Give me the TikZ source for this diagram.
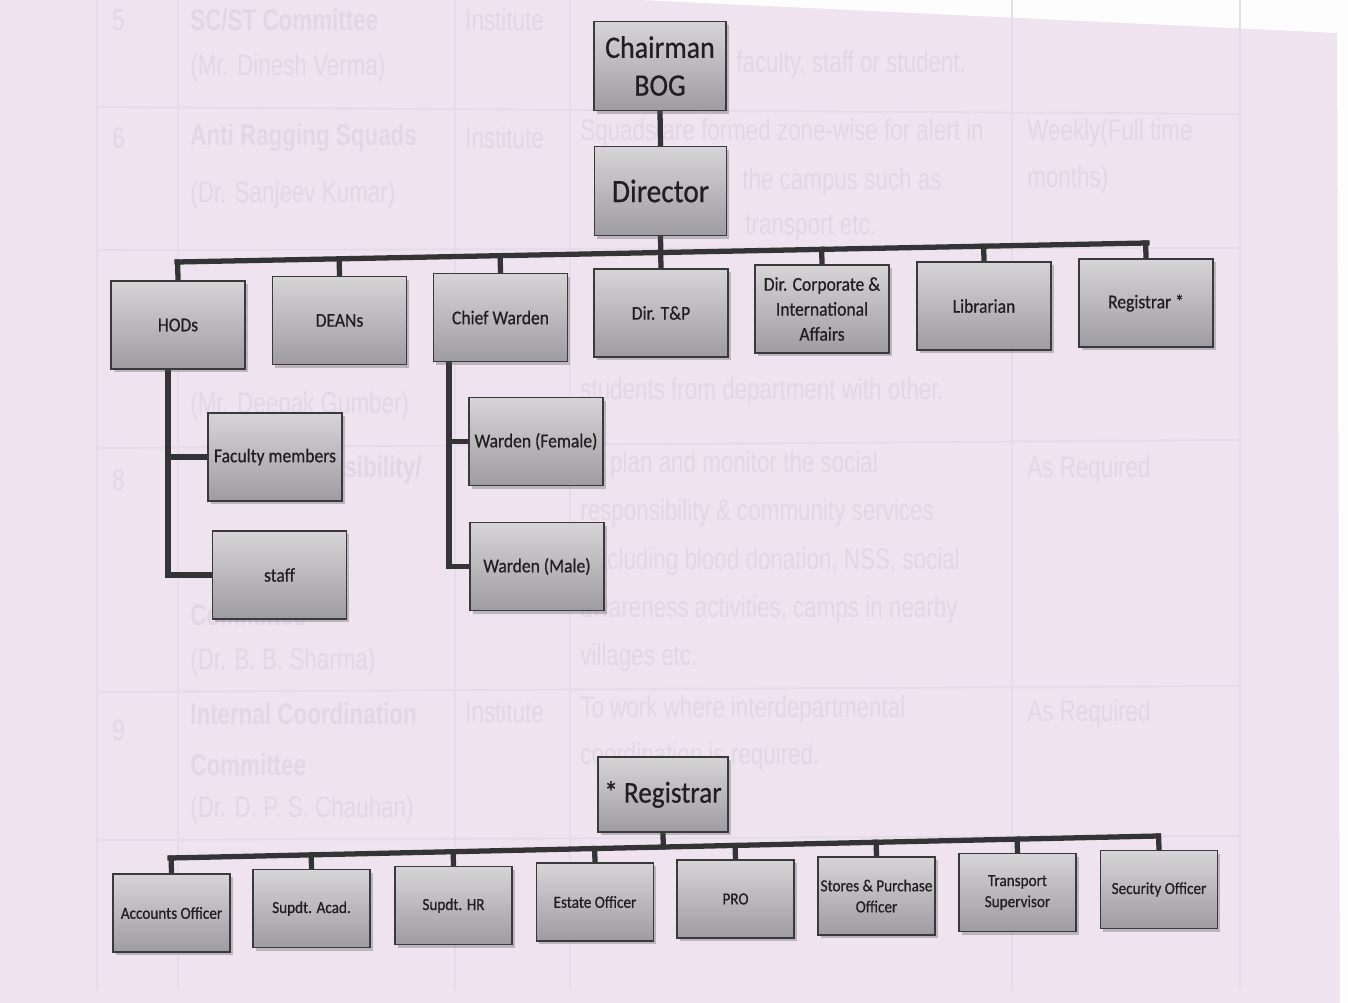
\documentclass[tikz,border=0pt]{standalone}
\usepackage{fontspec}
\setmainfont{Carlito}[FakeStretch=0.9,FakeBold=0.6]
\newfontfamily\ghostfont{Liberation Sans}[FakeStretch=0.75]
\usetikzlibrary{calc,shadows}
\pgfdeclarelayer{paperlayer}
\pgfdeclarelayer{linelayer}
\pgfsetlayers{paperlayer,linelayer,main}
\definecolor{paper}{RGB}{238,227,239}
\definecolor{ghost}{RGB}{227,215,229}
\definecolor{ghostline}{RGB}{230,219,232}
\definecolor{linec}{RGB}{52,52,55}
\definecolor{boxtop}{RGB}{214,212,215}
\definecolor{boxbot}{RGB}{158,156,160}
\definecolor{boxedge}{RGB}{58,58,60}
\tikzset{
  orgbox/.style={draw=boxedge, line width=0.9pt, top color=boxtop, bottom color=boxbot,
    align=center, text=black!88, inner sep=1pt,
    drop shadow={shadow xshift=1.6pt, shadow yshift=-1.8pt, opacity=0.3, fill=black!70}},
  bigbox/.style={orgbox, minimum width=2.64cm, minimum height=1.78cm},
  midbox/.style={orgbox, minimum width=2.68cm, minimum height=1.76cm,
    font=\fontsize{11.1}{14.2}\selectfont},
  lowbox/.style={orgbox, minimum width=2.34cm, minimum height=1.56cm,
    font=\fontsize{9.6}{12}\selectfont},
  conn/.style={draw=linec, line width=3pt, line cap=rect, line join=miter},
  ghosttext/.style={anchor=west, inner sep=0pt, text=ghost, font=\ghostfont\fontsize{17}{20}\selectfont},
  ghostbold/.style={ghosttext, font=\ghostfont\bfseries\fontsize{17}{20}\selectfont},
  gline/.style={draw=ghostline, line width=1.2pt}
}
\begin{document}
\begin{tikzpicture}[x=0.02cm,y=-0.02cm]
\useasboundingbox (0,0) rectangle (1348,1003);
\begin{pgfonlayer}{paperlayer}
\fill[paper] (0,0) rectangle (1348,1003);
\fill[white!92!paper] (640,0) -- (1348,0) -- (1348,1003) -- (1340,1003) -- (1337,33) -- cycle;
% faint table lines (show-through)
\draw[gline] (97,107) -- (1240,114);
\draw[gline] (97,250) -- (1240,248);
\draw[gline] (97,448) -- (1240,440);
\draw[gline] (97,692) -- (1240,686);
\draw[gline] (97,840) -- (1240,836);
\foreach \gx in {97,178,455,570,1012,1240}{\draw[gline] (\gx,0) -- (\gx,990);}
% faint text (show-through)
\node[ghosttext] (g1) at (112,20) {5};
\node[ghostbold] (g2) at (190,20) {SC/ST Committee};
\node[ghosttext] (g3) at (190,68) {(Mr. Dinesh Verma)};
\node[ghosttext] (g4) at (465,20) {Institute};
\node[ghosttext] (g5) at (736,65) {faculty, staff or student.};
\node[ghosttext] (g6) at (112,138) {6};
\node[ghostbold] (g7) at (190,138) {Anti Ragging Squads};
\node[ghosttext] (g8) at (190,195) {(Dr. Sanjeev Kumar)};
\node[ghosttext] (g9) at (465,138) {Institute};
\node[ghosttext] (g10) at (580,133) {Squads are formed zone-wise for alert in};
\node[ghosttext] (g11) at (742,182) {the campus such as};
\node[ghosttext] (g12) at (745,228) {transport etc.};
\node[ghosttext] (g13) at (1027,133) {Weekly(Full time};
\node[ghosttext] (g14) at (1027,180) {months)};
\node[ghosttext] (g15) at (190,406) {(Mr. Deepak Gumber)};
\node[ghosttext] (g16) at (580,392) {students from department with other.};
\node[ghosttext] (g17) at (112,480) {8};
\node[ghostbold] (g18) at (344,470) {sibility/};
\node[ghostbold] (g19) at (190,615) {Committee};
\node[ghosttext] (g20) at (190,662) {(Dr. B. B. Sharma)};
\node[ghosttext] (g21) at (580,465) {To plan and monitor the social};
\node[ghosttext] (g22) at (580,513) {responsibility \& community services};
\node[ghosttext] (g23) at (607,562) {cluding blood donation, NSS, social};
\node[ghosttext] (g24) at (580,610) {awareness activities, camps in nearby};
\node[ghosttext] (g25) at (580,658) {villages etc.};
\node[ghosttext] (g26) at (1027,470) {As Required};
\node[ghosttext] (g27) at (112,730) {9};
\node[ghostbold] (g28) at (190,714) {Internal Coordination};
\node[ghostbold] (g29) at (190,765) {Committee};
\node[ghosttext] (g30) at (190,810) {(Dr. D. P. S. Chauhan)};
\node[ghosttext] (g31) at (465,712) {Institute};
\node[ghosttext] (g32) at (580,710) {To work where interdepartmental};
\node[ghosttext] (g33) at (580,757) {coordination is required.};
\node[ghosttext] (g34) at (1027,714) {As Required};
\end{pgfonlayer}

% top hierarchy
\node[bigbox, font=\fontsize{17.7}{21.5}\selectfont] (chairman) at (660,66) {Chairman\\BOG};
\node[bigbox, font=\fontsize{18.6}{21}\selectfont] (director) at (660.5,191) {Director};
\node[midbox] (hods) at (178,325) {HODs};
\node[midbox] (deans) at (339.5,320.5) {DEANs};
\node[midbox] (cwarden) at (500.5,317.5) {Chief Warden};
\node[midbox] (dirtp) at (661,313) {Dir. T\&P};
\node[midbox] (dircorp) at (822,309) {Dir. Corporate \&\\International\\Affairs};
\node[midbox] (librarian) at (984,306) {Librarian};
\node[midbox] (registrarA) at (1146,303) {Registrar *};
\node[midbox] (faculty) at (275,457) {Faculty members};
\node[midbox] (staff) at (279.5,575) {staff};
\node[midbox] (wfemale) at (536,441.5) {Warden (Female)};
\node[midbox] (wmale) at (537,566.5) {Warden (Male)};

% registrar hierarchy
\node[orgbox, minimum width=2.6cm, minimum height=1.5cm, font=\fontsize{17.2}{20}\selectfont] (registrarB) at (663,794.5) {* Registrar};
\node[lowbox] (accounts) at (171.5,913) {Accounts Officer};
\node[lowbox] (supacad) at (311.5,908.5) {Supdt. Acad.};
\node[lowbox] (suphr) at (453.5,905.5) {Supdt. HR};
\node[lowbox] (estate) at (595,902) {Estate Officer};
\node[lowbox] (pro) at (735.5,899) {PRO};
\node[lowbox] (stores) at (876.5,896) {Stores \& Purchase\\Officer};
\node[lowbox] (transport) at (1017.5,892.5) {Transport\\Supervisor};
\node[lowbox] (security) at (1159,889.5) {Security Officer};

\begin{pgfonlayer}{linelayer}
\coordinate (tbL) at (177,262);
\coordinate (tbR) at (1147,243);
\draw[conn] (chairman.south) -- (director.north);
\draw[conn] (director.south) -- ($(tbL)!(director.south)!(tbR)$);
\draw[conn] (tbL) -- (tbR);
\foreach \c in {hods,deans,cwarden,dirtp,dircorp,librarian,registrarA}
  {\draw[conn] (\c.north) -- ($(tbL)!(\c.north)!(tbR)$);}
\coordinate (hx) at (168,0);
\draw[conn] (hods.south -| hx) |- (faculty.west);
\draw[conn] (hods.south -| hx) |- (staff.west);
\coordinate (cx) at (449,0);
\draw[conn] (cwarden.south -| cx) |- (wfemale.west);
\draw[conn] (cwarden.south -| cx) |- (wmale.west);
\coordinate (bbL) at (170,858);
\coordinate (bbR) at (1158,836);
\draw[conn] (registrarB.south) -- ($(bbL)!(registrarB.south)!(bbR)$);
\draw[conn] (bbL) -- (bbR);
\foreach \c in {accounts,supacad,suphr,estate,pro,stores,transport,security}
  {\draw[conn] (\c.north) -- ($(bbL)!(\c.north)!(bbR)$);}
\end{pgfonlayer}
\end{tikzpicture}
\end{document}
